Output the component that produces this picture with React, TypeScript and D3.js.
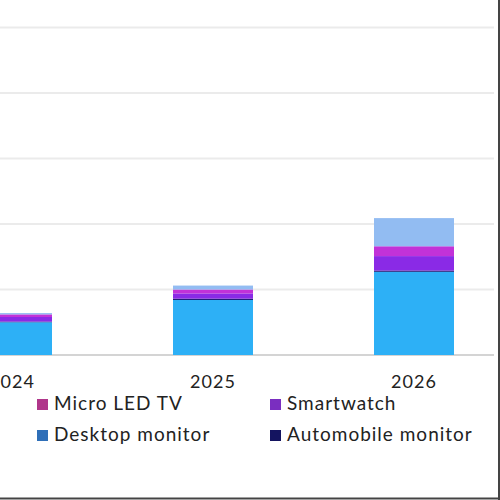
import React from "react";
import * as d3 from "d3";

const years = ["2024", "2025", "2026"];
const seriesNames = ["Desktop monitor", "Automobile monitor", "Smartwatch", "Micro LED TV", "Other"];
const desktopMonitor = [0.5, 0.84, 1.27];
const automobileMonitor = [0.01, 0.02, 0.02];
const smartwatch = [0.07, 0.08, 0.22];
const microLedTv = [0.04, 0.06, 0.15];
const other = [0.02, 0.06, 0.43];
const yTicks = [0, 1, 2, 3, 4, 5];
const legendItems = ["Micro LED TV", "Smartwatch", "Desktop monitor", "Automobile monitor"];

const colors: Record<string, string> = {
  "Desktop monitor": "#2db0f6",
  "Automobile monitor": "#1c1c78",
  "Smartwatch": "#8a2ae6",
  "Micro LED TV": "#c232d8",
  "Other": "#92bcf2",
};
const legendColors: Record<string, string> = {
  "Micro LED TV": "#b0368a",
  "Smartwatch": "#7a2ec0",
  "Desktop monitor": "#2f6fb8",
  "Automobile monitor": "#141460",
};

export default function App() {
  const rows = years.map((y, i) => ({
    year: y,
    "Desktop monitor": desktopMonitor[i],
    "Automobile monitor": automobileMonitor[i],
    "Smartwatch": smartwatch[i],
    "Micro LED TV": microLedTv[i],
    "Other": other[i],
  }));
  const stacked = d3.stack<any>().keys(seriesNames)(rows);
  const x = d3.scalePoint<string>().domain(years).range([12, 414]);
  const y = d3.scaleLinear().domain([0, 5]).range([355, 27.5]);
  const barW = 80;
  const font = "Lato, 'Noto Sans', sans-serif";

  return (
    <div style={{ position: "fixed", left: 0, top: 0 }}>
      <svg width={500} height={500} style={{ display: "block", background: "#fff" }}>
        {yTicks.map((t) => (
          <line
            key={t}
            x1={0}
            x2={494}
            y1={y(t)}
            y2={y(t)}
            stroke={t === 0 ? "#d4d4d4" : "#ebebeb"}
            strokeWidth={2}
          />
        ))}
        {stacked.map((s) => (
          <g key={s.key} fill={colors[s.key]}>
            {s.map((d, i) => (
              <rect
                key={i}
                x={(x(years[i]) as number) - barW / 2}
                y={y(d[1])}
                width={barW}
                height={Math.max(0, y(d[0]) - y(d[1]))}
              />
            ))}
          </g>
        ))}
        {years.map((yr) => (
          <text
            key={yr}
            x={x(yr) as number}
            y={388}
            textAnchor="middle"
            fontFamily={font}
            fontSize={18}
            letterSpacing={1}
            fill="#222"
          >
            {yr}
          </text>
        ))}
        {legendItems.map((name, i) => {
          const col = i % 2;
          const row = Math.floor(i / 2);
          const lx = col === 0 ? 37 : 270;
          const ly = row === 0 ? 404 : 435;
          return (
            <g key={name}>
              <rect x={lx} y={ly - 5} width={11} height={11} fill={legendColors[name]} />
              <text
                x={lx + 17}
                y={ly + 6}
                fontFamily={font}
                fontSize={19}
                letterSpacing={1}
                fill="#222"
              >
                {name}
              </text>
            </g>
          );
        })}
        <line x1={499} x2={499} y1={0} y2={500} stroke="#444" strokeWidth={2} />
        <line x1={0} x2={500} y1={498.5} y2={498.5} stroke="#444" strokeWidth={2} />
      </svg>
    </div>
  );
}
